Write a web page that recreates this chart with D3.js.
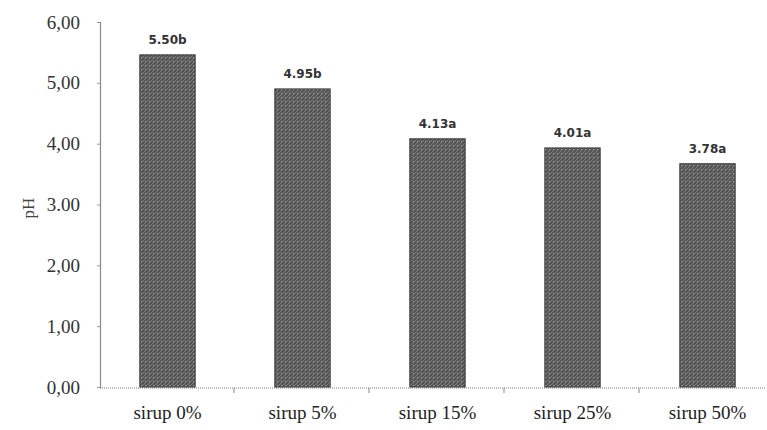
<!DOCTYPE html>
<html>
<head>
<meta charset="utf-8">
<script src="https://cdn.jsdelivr.net/npm/d3@7"></script>
<style>
  body { margin: 0; background: #fff; }
  svg { display: block; }
</style>
</head>
<body>
<div class="graphic"></div>
<script>
// data
var categories = ["sirup 0%", "sirup 5%", "sirup 15%", "sirup 25%", "sirup 50%"]
var phValues = [5.46, 4.90, 4.08, 3.93, 3.67]
var barLabels = ["5.50b", "4.95b", "4.13a", "4.01a", "3.78a"]
var yTicks = [0, 1, 2, 3, 4, 5, 6]
var yTickLabels = ["0,00", "1,00", "2,00", "3.00", "4,00", "5,00", "6,00"]

var svg_width = 767, svg_height = 430

var svg = d3.select(".graphic")
  .append("svg")
  .attr("width", svg_width)
  .attr("height", svg_height)

// grainy fill for the bars
var defs = svg.append("defs")
var pat = defs.append("pattern")
  .attr("id", "grain")
  .attr("patternUnits", "userSpaceOnUse")
  .attr("width", 4).attr("height", 4)
pat.append("rect").attr("width", 4).attr("height", 4).attr("fill", "#555")
pat.append("path").attr("d", "M0,4 L4,0").attr("stroke", "#8a8a8a").attr("stroke-width", 0.8)
pat.append("rect").attr("x", 1).attr("y", 1).attr("width", 1).attr("height", 1).attr("fill", "#9a9a9a")

var x = d3.scaleBand()
  .domain(categories)
  .range([100, 775])
  .paddingInner(0.59)
  .paddingOuter(0.295)

var y = d3.scaleLinear()
  .domain([0, 6])
  .range([387, 22])

// y axis
var yAxis = svg.append("g")
  .attr("transform", "translate(100,0)")
  .call(d3.axisLeft(y).tickValues(yTicks).tickSize(3)
    .tickFormat(function(d, i){ return yTickLabels[i] }))
yAxis.select(".domain").attr("stroke", "#888").attr("stroke-width", 1.2)
yAxis.selectAll(".tick line").attr("stroke", "#999")
yAxis.selectAll(".tick text")
  .attr("x", -20)
  .attr("font-family", "'Liberation Serif', serif")
  .attr("font-size", "19px")
  .attr("fill", "#333")

// x axis (dotted baseline)
svg.append("line")
  .attr("x1", 100).attr("x2", 765)
  .attr("y1", y(0) + 1).attr("y2", y(0) + 1)
  .attr("stroke", "#777")
  .attr("stroke-dasharray", "1,1")

// tick marks between categories
svg.append("g")
  .selectAll("line")
  .data(categories.slice(1))
  .enter()
  .append("line")
  .attr("x1", function(d){ return x(d) - x.step() * x.paddingInner() / 2 - 1 })
  .attr("x2", function(d){ return x(d) - x.step() * x.paddingInner() / 2 - 1 })
  .attr("y1", y(0) + 1).attr("y2", y(0) + 6)
  .attr("stroke", "#888")

svg.append("g")
  .selectAll("text")
  .data(categories)
  .enter()
  .append("text")
  .attr("x", function(d){ return x(d) + x.bandwidth() / 2 })
  .attr("y", 419)
  .attr("text-anchor", "middle")
  .attr("font-family", "'Liberation Serif', serif")
  .attr("font-size", "19px")
  .attr("fill", "#222")
  .text(function(d){ return d })

// bars
svg.append("g")
  .selectAll("rect")
  .data(phValues)
  .enter()
  .append("rect")
  .attr("x", function(d, i){ return x(categories[i]) })
  .attr("y", function(d){ return y(d) })
  .attr("width", x.bandwidth())
  .attr("height", function(d){ return y(0) - y(d) })
  .attr("fill", "url(#grain)")
  .attr("stroke", "#3a3a3a")
  .attr("stroke-width", 1)

// value labels
svg.append("g")
  .selectAll("text")
  .data(phValues)
  .enter()
  .append("text")
  .attr("x", function(d, i){ return x(categories[i]) + x.bandwidth() / 2 })
  .attr("y", function(d){ return y(d) - 11 })
  .attr("text-anchor", "middle")
  .attr("font-family", "'DejaVu Sans', sans-serif")
  .attr("font-weight", "bold")
  .attr("font-size", "12px")
  .attr("fill", "#333")
  .text(function(d, i){ return barLabels[i] })

// axis title
svg.append("text")
  .attr("transform", "translate(34,208) rotate(-90)")
  .attr("text-anchor", "middle")
  .attr("font-family", "'Liberation Serif', serif")
  .attr("font-size", "17px")
  .attr("fill", "#444")
  .text("pH")
</script>
</body>
</html>
